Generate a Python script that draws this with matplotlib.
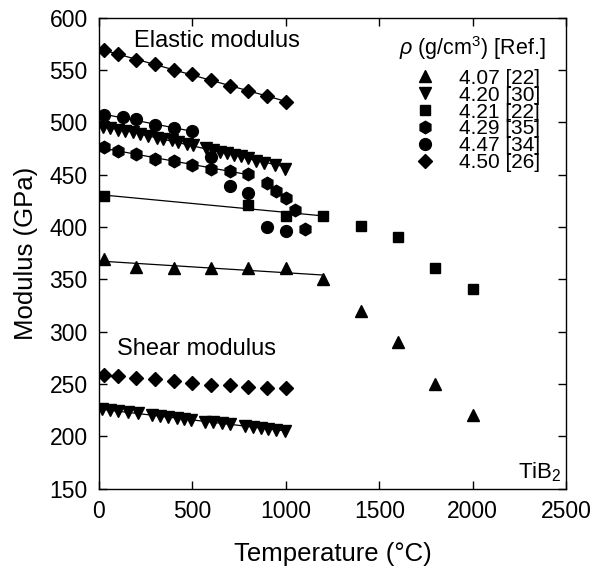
import numpy as np
import matplotlib
matplotlib.use('Agg')
import matplotlib.pyplot as plt

plt.rcParams['font.family'] = ['Liberation Sans', 'DejaVu Sans']
plt.rcParams['mathtext.fontset'] = 'custom'
plt.rcParams['mathtext.rm'] = 'Liberation Sans'
plt.rcParams['mathtext.it'] = 'Liberation Sans:italic'

# ---- data (temperature in C, modulus in GPa) ----
# elastic modulus
t407 = [25, 200, 400, 600, 800, 1000, 1200, 1400, 1600, 1800, 2000]
e407 = [370, 362, 361, 361, 361, 361, 350, 320, 290, 250, 220]

t420 = [20, 60, 100, 140, 180, 220, 265, 310, 345, 390, 425, 470, 505,
        575, 610, 650, 685, 720, 760, 800, 840, 885, 940, 995]
e420 = [496, 494.5, 493, 491.5, 490.5, 489, 487.5, 485.5, 484.5, 483, 481.5, 479.5, 478,
        475.5, 474, 472, 471, 469, 467.5, 466, 463.5, 461.5, 459, 455.5]

t421 = [25, 800, 1000, 1200, 1400, 1600, 1800, 2000]
e421 = [430, 421, 411, 411, 401, 391, 361, 341]

t429 = [25, 100, 200, 300, 400, 500, 600, 700, 800, 900, 950, 1000, 1050, 1100]
e429 = [476.5, 472.5, 470, 465, 463, 459.5, 456, 453.5, 451, 442.5, 434.5, 427.5, 416.5, 398]

t447 = [25, 130, 200, 300, 400, 500, 600, 700, 800, 900, 1000]
e447 = [507, 505, 503, 497.5, 495, 491.5, 467, 439, 433, 400, 396]

t450 = [25, 100, 200, 300, 400, 500, 600, 700, 800, 900, 1000]
e450 = [569, 565, 560, 556, 550, 546, 541, 535, 530, 525, 520]

# shear modulus
t450s = [25, 100, 200, 300, 400, 500, 600, 700, 800, 900, 1000]
g450 = [258.5, 258, 256, 255, 252.5, 251.5, 249.5, 249.5, 247, 246, 246]

t420s = [16, 60, 104, 158, 211, 282, 326, 371, 415, 454, 495,
         567, 612, 656, 700, 780, 824, 869, 904, 948, 993]
g420 = [226, 225, 224, 223, 222, 220.5, 219.5, 218.5, 217.5, 216.5, 215.5,
        214, 213.5, 212.5, 211.5, 210, 209, 208, 207.5, 206.5, 205.5]

labels = ['4.07 [22]', '4.20 [30]', '4.21 [22]', '4.29 [35]', '4.47 [34]', '4.50 [26]']

fig = plt.figure(figsize=(5.96, 5.75), dpi=100)
ax = fig.add_axes([0.166, 0.150, 0.784, 0.819])


def fit_line(t, v, tmax):
    t = np.asarray(t, float)
    v = np.asarray(v, float)
    m = t <= tmax
    p = np.polyfit(t[m], v[m], 1)
    xs = np.array([0, tmax])
    ax.plot(xs, np.polyval(p, xs), color='black', lw=0.9, zorder=2)


# fitted lines
fit_line(t407, e407, 1200)
fit_line(t420, e420, 1000)
fit_line(t421, e421, 1200)
fit_line(t429, e429, 800)
fit_line(t447, e447, 500)
fit_line(t450, e450, 1000)
fit_line(t420s, g420, 1000)

mk = dict(color='black', ls='none', zorder=3)
h1, = ax.plot(t407, e407, marker='^', ms=9, label=labels[0], **mk)
h2, = ax.plot(t420, e420, marker='v', ms=9, label=labels[1], **mk)
h3, = ax.plot(t421, e421, marker='s', ms=7.8, label=labels[2], **mk)
h4, = ax.plot(t429, e429, marker='h', ms=9, label=labels[3], **mk)
h5, = ax.plot(t447, e447, marker='o', ms=8.5, label=labels[4], **mk)
h6, = ax.plot(t450, e450, marker='D', ms=7, label=labels[5], **mk)
ax.plot(t450s, g450, marker='D', ms=7, **mk)
ax.plot(t420s, g420, marker='v', ms=9, **mk)

ax.set_xlim(0, 2500)
ax.set_ylim(150, 600)
ax.set_xticks(np.arange(0, 2501, 500))
ax.set_yticks(np.arange(150, 601, 50))
ax.tick_params(direction='in', length=6, width=1, top=True, right=True,
               labelsize=16.5, pad=8)
for s in ax.spines.values():
    s.set_linewidth(1)

ax.set_xlabel('Temperature (°C)', fontsize=18.5, labelpad=14)
ax.set_ylabel('Modulus (GPa)', fontsize=18.5, labelpad=8)

ax.text(190, 578, 'Elastic modulus', fontsize=17, va='center', ha='left')
ax.text(97, 284, 'Shear modulus', fontsize=17, va='center', ha='left')
ax.text(0.99, 0.035, 'TiB$_2$', transform=ax.transAxes, fontsize=16,
        ha='right', va='center')

ax.text(0.799, 0.9365, r'$\rho$ (g/cm$^3$) [Ref.]', transform=ax.transAxes,
        fontsize=15.5, ha='center', va='center')
ax.legend(handles=[h1, h2, h3, h4, h5, h6], loc='upper left',
          bbox_to_anchor=(0.676, 0.892), frameon=False, fontsize=15,
          numpoints=1, handlelength=1.0, handletextpad=1.1,
          labelspacing=-0.1, borderpad=0, borderaxespad=0)

fig.savefig('out.png', dpi=100)
